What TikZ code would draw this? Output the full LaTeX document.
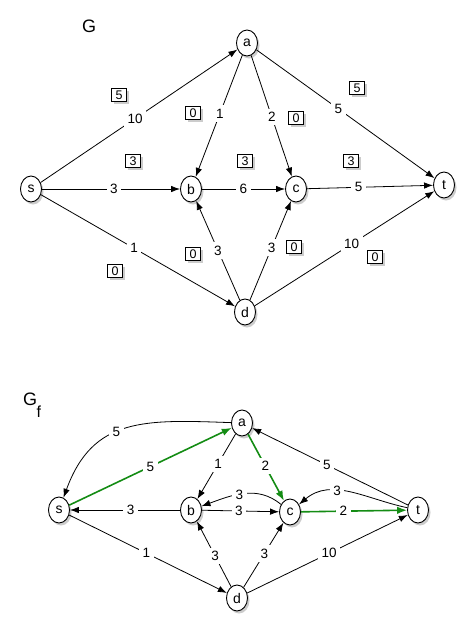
\documentclass[tikz,border=0pt]{standalone}
\usepackage{fontspec}
\setmainfont{Liberation Sans}
\usepackage{xcolor}
\definecolor{Col1}{RGB}{20,140,20}
\usepackage{tikz}
\usetikzlibrary{shapes}
\usetikzlibrary{shadows}
\usetikzlibrary{arrows.meta}
\tikzstyle{Vertex}=[ellipse,draw,line width=0.9pt,fill=white,inner sep=0pt,
minimum width=21pt,minimum height=26pt,font=\fontsize{14}{14}\selectfont,
drop shadow={opacity=0.4,shadow xshift=2pt,shadow yshift=-2.5pt}]
\tikzstyle{Arc}=[draw,line width=0.8pt,-{Latex[length=9pt,width=6.5pt]}]
\tikzstyle{ArcAug}=[draw=Col1,line width=1.6pt,-{Latex[length=10pt,width=7.5pt]}]
\tikzstyle{Weight}=[fill=white,inner sep=3.5pt,font=\fontsize{13.5}{14}\selectfont]
\tikzstyle{Flow}=[draw,line width=0.9pt,fill=white,inner sep=0pt,minimum width=15pt,
minimum height=13pt,font=\fontsize{12.5}{13}\selectfont,
drop shadow={opacity=0.4,shadow xshift=2pt,shadow yshift=-2.5pt}]
\tikzstyle{Title}=[anchor=base west,inner sep=0pt,font=\fontsize{18}{18}\selectfont]

\begin{document}
\begin{tikzpicture}[x=1pt,y=-1pt]
    \useasboundingbox (0,0) rectangle (476,632);
        % network G with its flow
        \node[Title](G)at(82,32){G};
        \node[Vertex](s)at(31,189){s};
        \node[Vertex](a)at(247,43){a};
        \node[Vertex](b)at(191,189){b};
        \node[Vertex](c)at(296,189){c};
        \node[Vertex](d)at(245,312){d};
        \node[Vertex](t)at(444,185){t};
        \draw[Arc](s)--node[Weight,pos=0.48]{10}(a);
        \draw[Arc](a)--node[Weight,pos=0.48]{1}(b);
        \draw[Arc](a)--node[Weight,pos=0.51]{2}(c);
        \draw[Arc](a)--node[Weight,pos=0.46]{5}(t);
        \draw[Arc](s)--node[Weight,pos=0.52]{3}(b);
        \draw[Arc](b)--node[Weight,pos=0.5]{6}(c);
        \draw[Arc](c)--node[Weight,pos=0.41]{5}(t);
        \draw[Arc](s)--node[Weight,pos=0.48]{1}(d);
        \draw[Arc](d)--node[Weight,pos=0.5]{3}(b);
        \draw[Arc](d)--node[Weight,pos=0.53]{3}(c);
        \draw[Arc](d)--node[Weight,pos=0.54]{10}(t);
        \node[Flow](fsa)at(119,95){5};
        \node[Flow](fab)at(193,113){0};
        \node[Flow](fac)at(296,118){0};
        \node[Flow](fat)at(357,88){5};
        \node[Flow](fsb)at(133,161){3};
        \node[Flow](fbc)at(245,161){3};
        \node[Flow](fct)at(351,161){3};
        \node[Flow](fsd)at(115,271){0};
        \node[Flow](fdb)at(193,254){0};
        \node[Flow](fdc)at(294,247){0};
        \node[Flow](fdt)at(375,257){0};
        % residual network G_f
        \node[Title](Gf)at(23,405){G\kern-0.5pt\raisebox{-12pt}{\fontsize{16}{16}\selectfont f}};
        \node[Vertex](s2)at(59,510){s};
        \node[Vertex](a2)at(242,423){a};
        \node[Vertex](b2)at(191,510){b};
        \node[Vertex](c2)at(290,512){c};
        \node[Vertex](d2)at(237,598){d};
        \node[Vertex](t2)at(418,510){t};
        \draw[Arc](a2)to[out=178,in=70,looseness=1.2]
            node[Weight,pos=0.56]{5}(s2);
        \draw[ArcAug](s2)--node[Weight,pos=0.5]{5}(a2);
        \draw[Arc](a2)--node[Weight,pos=0.46]{1}(b2);
        \draw[ArcAug](a2)--node[Weight,pos=0.48]{2}(c2);
        \draw[Arc](t2)--node[Weight,pos=0.52]{5}(a2);
        \draw[Arc](c2)to[out=140,in=20]node[Weight,pos=0.55]{3}(b2);
        \draw[Arc](t2)to[out=168,in=40]node[Weight,pos=0.62]{3}(c2);
        \draw[Arc](b2)--node[Weight,pos=0.45]{3}(s2);
        \draw[Arc](b2)--node[Weight,pos=0.48]{3}(c2);
        \draw[ArcAug](c2)--node[Weight,pos=0.4]{2}(t2);
        \draw[Arc](s2)--node[Weight,pos=0.49]{1}(d2);
        \draw[Arc](d2)--node[Weight,pos=0.47]{3}(b2);
        \draw[Arc](d2)--node[Weight,pos=0.52]{3}(c2);
        \draw[Arc](d2)--node[Weight,pos=0.51]{10}(t2);
    \end{tikzpicture}
\end{document}
